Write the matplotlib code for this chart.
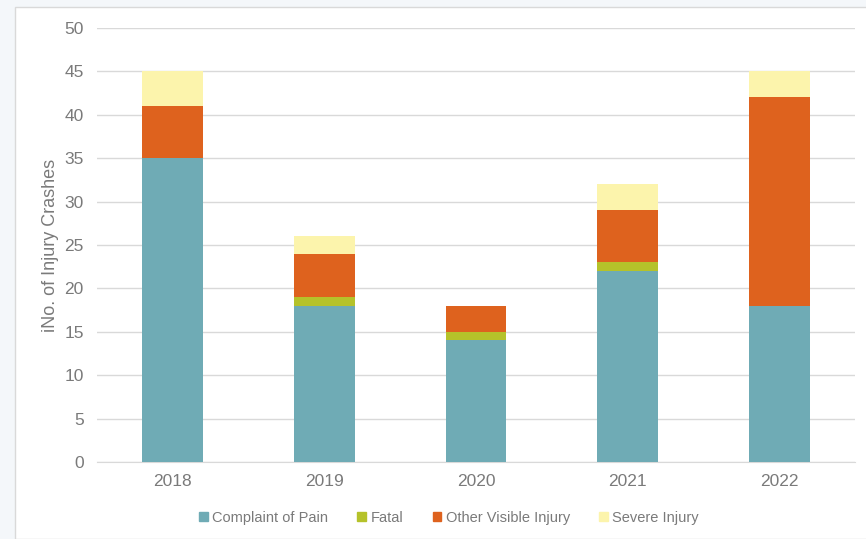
import matplotlib.pyplot as plt
import matplotlib.patches as mpatches
import numpy as np

years = ["2018", "2019", "2020", "2021", "2022"]
complaint_of_pain = [35, 18, 14, 22, 18]
fatal = [0, 1, 1, 1, 0]
other_visible = [6, 5, 3, 6, 24]
severe = [4, 2, 0, 3, 3]

series = [
    ("Complaint of Pain", complaint_of_pain, "#6FABB5"),
    ("Fatal", fatal, "#B5C22A"),
    ("Other Visible Injury", other_visible, "#DE621E"),
    ("Severe Injury", severe, "#FCF4AC"),
]

text_gray = "#7A7A7A"
plt.rcParams["font.family"] = ["Liberation Sans", "DejaVu Sans"]

fig = plt.figure(figsize=(8.66, 5.39), dpi=100)
fig.patch.set_facecolor("#F4F7FA")
# white chart panel with thin light border
panel = mpatches.Rectangle((15 / 866, 0.0), 1.0, 1 - 7 / 539,
                           transform=fig.transFigure, facecolor="white",
                           edgecolor="#D9D9D9", linewidth=1.0, zorder=-5)
fig.patches.append(panel)

ax = fig.add_axes([97 / 866, 77 / 539, 758 / 866, 434 / 539])
ax.set_facecolor("none")
ax.set_zorder(2)

x = np.arange(len(years))
bottom = np.zeros(len(years))
for name, vals, color in series:
    ax.bar(x, vals, width=0.4, bottom=bottom, color=color, label=name,
           zorder=3)
    bottom += np.array(vals)

ax.set_xlim(-0.5, len(years) - 0.5)
ax.set_ylim(0, 50)
ax.set_yticks(range(0, 51, 5))
ax.set_xticks(x)
ax.set_xticklabels(years)
ax.tick_params(axis="both", length=0, labelsize=12.5, colors=text_gray)
ax.tick_params(axis="y", pad=9.5)
ax.tick_params(axis="x", pad=9)
ax.grid(axis="y", color="#D9D9D9", linewidth=1.0, zorder=0)
for side in ("top", "right", "left"):
    ax.spines[side].set_visible(False)
ax.spines["bottom"].set_color("#D9D9D9")
ax.set_ylabel("iNo. of Injury Crashes", fontsize=13, color=text_gray,
              labelpad=4)

handles = [mpatches.Patch(color=c, label=n) for n, _, c in series]
leg = fig.legend(handles=handles, loc="center",
                 bbox_to_anchor=(449 / 866, 1 - 518 / 539),
                 ncol=4, frameon=False, fontsize=10.5, handlelength=0.6,
                 handleheight=0.6, handletextpad=0.3, columnspacing=2.0,
                 labelcolor=text_gray)
leg.set_zorder(3)

fig.savefig("out.png", dpi=100)
